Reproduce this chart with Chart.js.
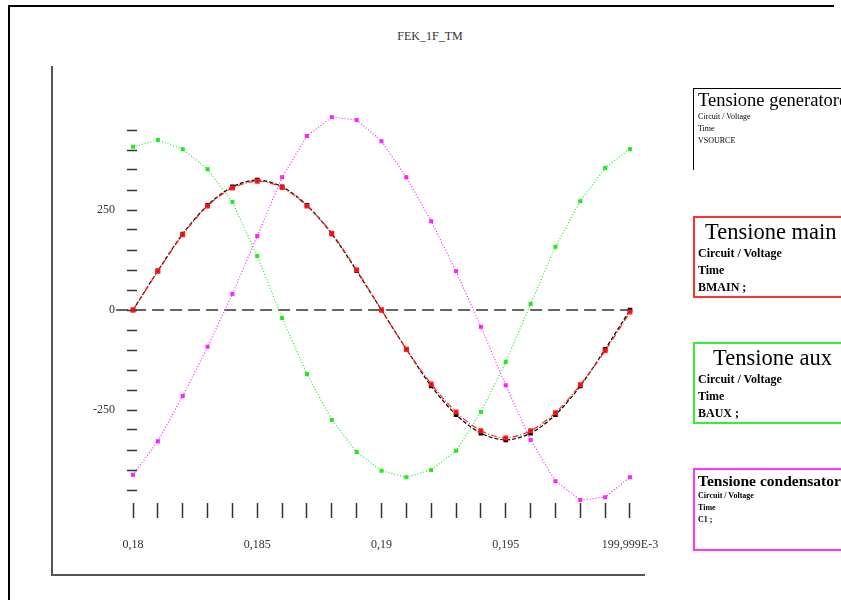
<!DOCTYPE html>
<html>
<head>
<meta charset="utf-8">
<script src="https://cdn.jsdelivr.net/npm/chart.js@4/dist/chart.umd.min.js"></script>
<style>
  html, body { margin: 0; padding: 0; width: 841px; height: 600px; overflow: hidden; background: #fff; }
  #frame { position: absolute; left: 8px; top: 5px; width: 826px; height: 600px; border-top: 2px solid #000; border-left: 2px solid #000; box-sizing: border-box; }
  #title { position: absolute; left: 330px; width: 200px; top: 29px; text-align: center; font-family: "Liberation Serif", serif; font-size: 12px; color: #333; }
  canvas { position: absolute; left: 0; top: 0; }
  .lg { position: absolute; left: 693px; width: 170px; box-sizing: border-box; font-family: "Liberation Serif", serif; color: #000; white-space: nowrap; overflow: hidden; }
  .lg .h { line-height: 1; }
  .lg .s { font-weight: bold; line-height: 1; }
</style>
</head>
<body>
<div id="frame"></div>
<div id="title">FEK_1F_TM</div>
<canvas id="c" width="841" height="600"></canvas>

<div class="lg" style="top:88px;height:82px;border-top:1px solid #000;border-left:1px solid #000;padding:2px 0 0 4px;">
  <div class="h" style="font-size:18.5px;">Tensione generatore</div>
  <div class="s" style="font-size:8px;margin-top:3px;font-weight:normal;">Circuit / Voltage</div>
  <div class="s" style="font-size:8px;margin-top:4px;font-weight:normal;">Time</div>
  <div class="s" style="font-size:8px;margin-top:4px;font-weight:normal;">VSOURCE</div>
</div>
<div class="lg" style="top:216px;height:82px;border:2px solid #ff3030;padding:3px 0 0 3px;">
  <div class="h" style="font-size:22.5px;padding-left:7px;">Tensione main</div>
  <div class="s" style="font-size:12px;margin-top:3px;">Circuit / Voltage</div>
  <div class="s" style="font-size:12px;margin-top:5px;">Time</div>
  <div class="s" style="font-size:12px;margin-top:5px;">BMAIN ;</div>
</div>
<div class="lg" style="top:342px;height:82px;border:2px solid #33ee33;padding:3px 0 0 3px;">
  <div class="h" style="font-size:22.5px;padding-left:15px;">Tensione aux</div>
  <div class="s" style="font-size:12px;margin-top:3px;">Circuit / Voltage</div>
  <div class="s" style="font-size:12px;margin-top:5px;">Time</div>
  <div class="s" style="font-size:12px;margin-top:5px;">BAUX ;</div>
</div>
<div class="lg" style="top:468px;height:83px;border:2px solid #ff33ff;padding:3px 0 0 3px;">
  <div class="h" style="font-size:15.5px;font-weight:bold;">Tensione condensatore</div>
  <div class="s" style="font-size:8px;margin-top:3px;">Circuit / Voltage</div>
  <div class="s" style="font-size:8px;margin-top:4px;">Time</div>
  <div class="s" style="font-size:8px;margin-top:4px;">C1 ;</div>
</div>

<script>
// ---- data ----
const timeValues = [0.180, 0.181, 0.182, 0.183, 0.184, 0.185, 0.186, 0.187, 0.188, 0.189, 0.190,
                    0.191, 0.192, 0.193, 0.194, 0.195, 0.196, 0.197, 0.198, 0.199, 0.200];
const vGeneratore = [0, 98, 190, 262, 308, 325, 308, 262, 190, 98, 0,
                     -98, -190, -262, -308, -325, -308, -262, -190, -98, 0];
const vMain = [0, 97, 188, 260, 305, 322, 306, 260, 192, 100, 0,
               -98, -185, -255, -302, -320, -302, -257, -187, -102, -5];
const vAux = [408, 425, 402, 352, 270, 135, -20, -160, -275, -355, -402,
              -418, -400, -352, -255, -130, 15, 158, 272, 355, 402];
const vCondensatore = [-412, -328, -215, -92, 40, 185, 332, 435, 482, 475, 422,
                       332, 222, 97, -42, -188, -325, -428, -475, -468, -418];
const zeroLineX = [0.17932, 0.200];
const xTickValues = [0.180, 0.181, 0.182, 0.183, 0.184, 0.185, 0.186, 0.187, 0.188, 0.189, 0.190,
                     0.191, 0.192, 0.193, 0.194, 0.195, 0.196, 0.197, 0.198, 0.199, 0.200];
const xTickLabels = { "0.18": "0,18", "0.185": "0,185", "0.19": "0,19", "0.195": "0,195", "0.2": "199,999E-3" };
const yTickValues = [450, 400, 350, 300, 250, 200, 150, 100, 50, 0, -50, -100, -150, -200, -250, -300, -350, -400, -450];
const yLabelValues = [250, 0, -250];
const yTickLabels = { "250": "250", "0": "0", "-250": "-250" };

const pts = (ys) => timeValues.map((t, i) => ({ x: t, y: ys[i] }));

const frameLines = {
  id: 'frameLines',
  afterDraw(chart) {
    const { ctx, chartArea } = chart;
    ctx.save();
    ctx.strokeStyle = '#555';
    ctx.lineWidth = 2;
    ctx.beginPath();
    ctx.moveTo(chartArea.left, chartArea.top);
    ctx.lineTo(chartArea.left, chartArea.bottom);
    ctx.lineTo(chartArea.right, chartArea.bottom);
    ctx.stroke();
    ctx.restore();
  }
};

const yMin = -662.5, yMax = 610;

new Chart(document.getElementById('c'), {
  type: 'line',
  data: {
    datasets: [
      { label: 'Tensione main', data: pts(vMain), borderColor: '#ff2020', backgroundColor: '#ff0000',
        borderWidth: 1.2, borderDash: [6, 2, 1, 2], pointStyle: 'rect', pointRadius: 2.6, tension: 0.3, order: 1 },
      { label: 'Tensione generatore', data: pts(vGeneratore), borderColor: '#000', backgroundColor: '#000',
        borderWidth: 1.2, borderDash: [4, 2], pointStyle: 'rect', pointRadius: 2.4, tension: 0.3, order: 2 },
      { label: 'Tensione aux', data: pts(vAux), borderColor: '#22ee22', backgroundColor: '#22dd22',
        borderWidth: 1.2, borderDash: [1, 2], pointStyle: 'rect', pointRadius: 2, tension: 0, order: 3 },
      { label: 'Tensione condensatore', data: pts(vCondensatore), borderColor: '#ff22ff', backgroundColor: '#ff22ff',
        borderWidth: 1.2, borderDash: [1, 2], pointStyle: 'rect', pointRadius: 2, tension: 0, order: 4 },
      { label: 'zero', data: zeroLineX.map(x => ({ x, y: 0 })), borderColor: '#333', borderWidth: 1.5,
        borderDash: [12, 6], pointRadius: 0, order: 5 }
    ]
  },
  options: {
    responsive: false,
    devicePixelRatio: 1,
    animation: false,
    layout: { padding: { left: 52, top: 66, right: 196, bottom: 25 } },
    plugins: { legend: { display: false }, title: { display: false }, tooltip: { enabled: false } },
    scales: {
      x: {
        type: 'linear',
        min: 0.17674, max: 0.200604,
        position: { y: -482.5 },
        border: { display: false },
        grid: { drawOnChartArea: false, drawTicks: true, tickLength: 15, tickColor: '#333', tickWidth: 1.5 },
        afterBuildTicks: (s) => { s.ticks = xTickValues.map(v => ({ value: v })); },
        ticks: {
          padding: 20,
          color: '#333',
          font: { family: 'Liberation Serif', size: 12 },
          maxRotation: 0, autoSkip: false,
          callback: (v) => xTickLabels[String(Math.round(v * 1000) / 1000)] || ''
        }
      },
      y: {
        type: 'linear',
        min: yMin, max: yMax,
        position: { x: 0.18016 },
        border: { display: false },
        grid: { drawOnChartArea: false, drawTicks: true, tickLength: 10, tickColor: '#333', tickWidth: 1.5 },
        afterBuildTicks: (s) => { s.ticks = yTickValues.map(v => ({ value: v })); },
        ticks: { display: false }
      },
      yLabels: {
        type: 'linear',
        axis: 'y',
        min: yMin, max: yMax,
        position: { x: 0.179276 },
        border: { display: false },
        grid: { display: false, drawOnChartArea: false, drawTicks: false },
        afterBuildTicks: (s) => { s.ticks = yLabelValues.map(v => ({ value: v })); },
        ticks: {
          color: '#333',
          font: { family: 'Liberation Serif', size: 12 },
          autoSkip: false,
          callback: (v) => yTickLabels[String(v)] || ''
        }
      }
    }
  },
  plugins: [frameLines]
});
</script>
</body>
</html>
